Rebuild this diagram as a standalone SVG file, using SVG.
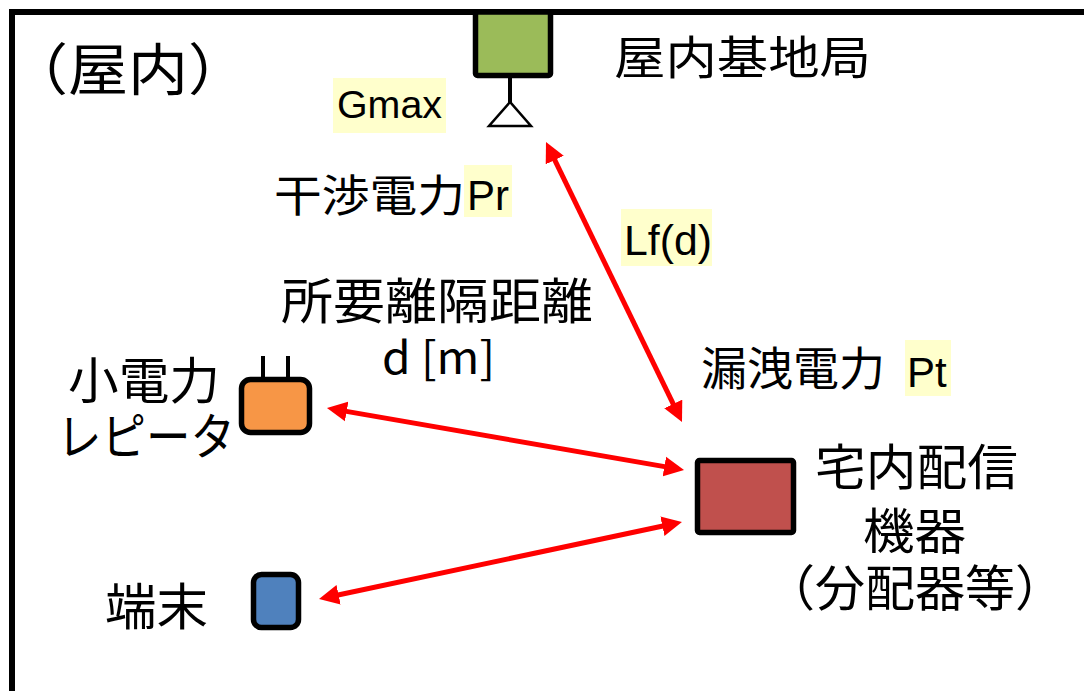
<svg xmlns="http://www.w3.org/2000/svg" width="1084" height="691" viewBox="0 0 1084 691">
<defs>
<style>
.jp{font-family:"Noto Sans CJK JP","Liberation Sans",sans-serif;fill:#000}
.lat{font-family:"Liberation Sans",Arial,sans-serif;fill:#000}
.hl{fill:#FFFFCC}
.box{stroke:#000;stroke-width:5.5}
.conn{stroke:#FF0000;stroke-width:5;fill:none;marker-start:url(#ah);marker-end:url(#ah)}
</style>
<marker id="ah" markerUnits="userSpaceOnUse" viewBox="0 -11 22 22" refX="9" refY="0" markerWidth="22" markerHeight="22" orient="auto-start-reverse">
<path d="M0,-10 L20,0 L0,10 Z" fill="#FF0000"/>
</marker>
</defs>
<rect width="1084" height="691" fill="#FFFFFF"/>
<g id="frame">
<path d="M12,691 V12 H1084" fill="none" stroke="#000" stroke-width="6"/>
<text class="jp" x="8" y="90" font-size="56" textLength="240" lengthAdjust="spacingAndGlyphs">（屋内）</text>
</g>
<g id="base-station">
<rect class="box" x="475.5" y="12" width="75" height="63.5" rx="2" fill="#9BBB59"/>
<line x1="510" y1="76" x2="510" y2="103" stroke="#000" stroke-width="4"/>
<polygon points="510,102 489,126 531,126" fill="#FFFFFF" stroke="#000" stroke-width="2.5"/>
<text class="jp" x="614" y="74" font-size="46" textLength="257" lengthAdjust="spacingAndGlyphs">屋内基地局</text>
<rect class="hl" x="333" y="78" width="113" height="55"/>
<text class="lat" x="337" y="118" font-size="38" textLength="105" lengthAdjust="spacingAndGlyphs">Gmax</text>
</g>
<g id="label-interference">
<text class="jp" x="274" y="212" font-size="44" textLength="191" lengthAdjust="spacingAndGlyphs">干渉電力</text>
<rect class="hl" x="464" y="165" width="48" height="52"/>
<text class="lat" x="467" y="210" font-size="42">Pr</text>
</g>
<g id="label-distance">
<text class="jp" x="281" y="319" font-size="49" textLength="312" lengthAdjust="spacingAndGlyphs">所要離隔距離</text>
<text class="jp" x="382" y="374" font-size="44" textLength="113" lengthAdjust="spacingAndGlyphs">d [m]</text>
</g>
<g id="label-loss">
<rect class="hl" x="621" y="209" width="91" height="57"/>
<text class="lat" x="624" y="255" font-size="42" textLength="88" lengthAdjust="spacingAndGlyphs">Lf(d)</text>
</g>
<g id="label-leak">
<text class="jp" x="701" y="385" font-size="46" textLength="184" lengthAdjust="spacingAndGlyphs">漏洩電力</text>
<rect class="hl" x="905" y="340" width="46" height="56"/>
<text class="lat" x="907" y="387" font-size="42">Pt</text>
</g>
<g id="repeater">
<line x1="263" y1="356" x2="263" y2="380" stroke="#000" stroke-width="4"/>
<line x1="288" y1="356" x2="288" y2="380" stroke="#000" stroke-width="4"/>
<rect class="box" x="241.5" y="379.5" width="68" height="53" rx="9" fill="#F79646"/>
<text class="jp" x="68" y="399" font-size="50" textLength="152" lengthAdjust="spacingAndGlyphs">小電力</text>
<text class="jp" x="57" y="455" font-size="50" textLength="178" lengthAdjust="spacingAndGlyphs">レピータ</text>
</g>
<g id="terminal">
<rect class="box" x="253.5" y="574.5" width="45" height="53" rx="8" fill="#4F81BD"/>
<text class="jp" x="105" y="625" font-size="50" textLength="103" lengthAdjust="spacingAndGlyphs">端末</text>
</g>
<g id="home-equipment">
<rect class="box" x="697.5" y="460.5" width="96" height="72" rx="2" fill="#C0504D"/>
<text class="jp" x="815" y="485" font-size="49" textLength="203" lengthAdjust="spacingAndGlyphs">宅内配信</text>
<text class="jp" x="863" y="549" font-size="49" textLength="103" lengthAdjust="spacingAndGlyphs">機器</text>
<text class="jp" x="765" y="606" font-size="49" textLength="300" lengthAdjust="spacingAndGlyphs">（分配器等）</text>
</g>
<g id="connectors">
<line class="conn" x1="550.8" y1="151.9" x2="677.2" y2="412.1"/>
<line class="conn" x1="337.8" y1="409.9" x2="673.2" y2="468.1"/>
<line class="conn" x1="329.8" y1="596.7" x2="671.2" y2="524.3"/>
</g>
</svg>
